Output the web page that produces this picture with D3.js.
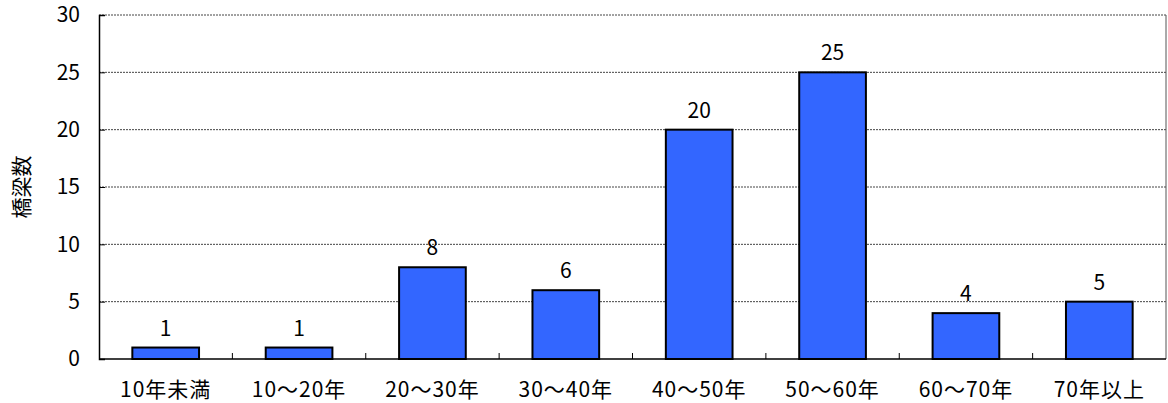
<!DOCTYPE html>
<html lang="ja">
<head>
<meta charset="UTF-8">
<script src="https://d3js.org/d3.v7.min.js"></script>
<style>
    body { margin: 0; background: #fff; }
    svg text { font-family: "Noto Sans CJK JP", sans-serif; fill: #000; }
</style>
</head>
<body>
<svg id="chart" width="1168" height="403"></svg>
<script>
    // data
    const categories = ["10年未満", "10～20年", "20～30年", "30～40年", "40～50年", "50～60年", "60～70年", "70年以上"];
    const bridgeCounts = [1, 1, 8, 6, 20, 25, 4, 5];
    const yTicks = [0, 5, 10, 15, 20, 25, 30];
    const yLabel = "橋梁数";

    const svg = d3.select("#chart");
    const margin = {top: 15, right: 2, bottom: 44, left: 99};
    const W = 1168, H = 403;
    const fs = 21;

    const x = d3.scaleBand()
        .domain(categories)
        .range([margin.left, W - margin.right])
        .paddingInner(0.5)
        .paddingOuter(0.25);

    const y = d3.scaleLinear()
        .domain([0, 30])
        .range([H - margin.bottom, margin.top]);

    // gridlines
    svg.append("g")
        .selectAll("line")
        .data(yTicks.filter(d => d > 0))
        .enter().append("line")
        .attr("x1", margin.left).attr("x2", W - margin.right)
        .attr("y1", d => y(d)).attr("y2", d => y(d))
        .attr("stroke", "#444")
        .attr("stroke-width", 1)
        .attr("stroke-dasharray", "2,1");

    // right border
    svg.append("line")
        .attr("x1", W - margin.right).attr("x2", W - margin.right)
        .attr("y1", margin.top).attr("y2", H - margin.bottom)
        .attr("stroke", "#555");

    // bars
    svg.append("g")
        .selectAll("rect")
        .data(bridgeCounts)
        .enter().append("rect")
        .attr("x", (d, i) => x(categories[i]))
        .attr("y", d => y(d))
        .attr("width", x.bandwidth())
        .attr("height", d => y(0) - y(d))
        .attr("fill", "#3366ff")
        .attr("stroke", "#000")
        .attr("stroke-width", 2);

    // value labels
    svg.append("g")
        .selectAll("text")
        .data(bridgeCounts)
        .enter().append("text")
        .attr("x", (d, i) => x(categories[i]) + x.bandwidth() / 2)
        .attr("y", d => y(d) - 12)
        .attr("text-anchor", "middle")
        .attr("font-size", fs)
        .text(d => d);

    // y axis
    const yAxis = svg.append("g")
        .attr("transform", `translate(${margin.left},0)`)
        .call(d3.axisLeft(y).tickValues(yTicks).tickSize(-6).tickPadding(19));
    yAxis.select(".domain").attr("stroke", "#000").attr("stroke-width", 1.5);
    yAxis.selectAll(".tick line").attr("stroke", "#000");
    yAxis.selectAll("text").attr("font-size", fs).attr("font-family", "'Noto Sans CJK JP', sans-serif");

    // x axis with inward ticks at band boundaries
    const xAxis = svg.append("g")
        .attr("transform", `translate(0,${y(0)})`);
    xAxis.append("line")
        .attr("x1", margin.left).attr("x2", W - margin.right)
        .attr("stroke", "#000").attr("stroke-width", 1.5);
    xAxis.selectAll(".sep")
        .data(categories.slice(1))
        .enter().append("line")
        .attr("class", "sep")
        .attr("x1", d => x(d) - x.step() * x.paddingInner() / 2)
        .attr("x2", d => x(d) - x.step() * x.paddingInner() / 2)
        .attr("y1", 0).attr("y2", -6)
        .attr("stroke", "#000");
    xAxis.selectAll("text")
        .data(categories)
        .enter().append("text")
        .attr("x", d => x(d) + x.bandwidth() / 2)
        .attr("y", 38)
        .attr("text-anchor", "middle")
        .attr("font-size", fs)
        .attr("letter-spacing", 1)
        .text(d => d);

    // y label
    svg.append("text")
        .attr("transform", `translate(29,${(margin.top + y(0)) / 2}) rotate(-90)`)
        .attr("text-anchor", "middle")
        .attr("font-size", fs)
        .text(yLabel);
</script>
</body>
</html>
